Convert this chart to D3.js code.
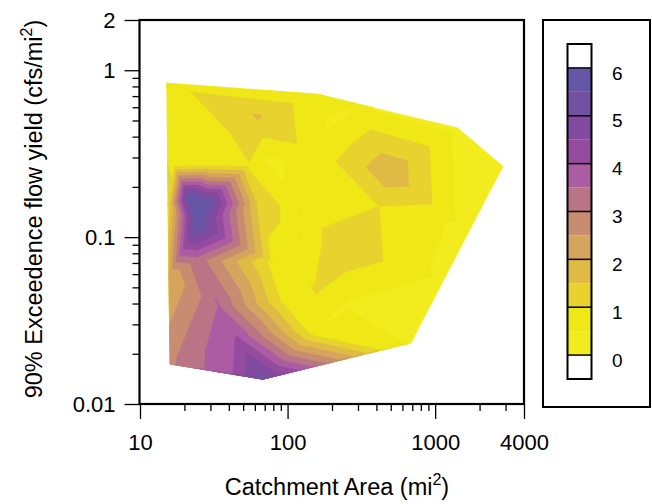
<!DOCTYPE html>
<html><head><meta charset="utf-8">
<script src="https://cdn.jsdelivr.net/npm/d3@7"></script>
<style>body{margin:0;background:#fff} text{font-family:"Liberation Sans",Arial,sans-serif;fill:#000}</style>
</head><body><svg id="c" width="652" height="504"></svg>
<script>
// Sampled sites (catchment area mi², 90% exceedence yield cfs/mi², contoured value)
const siteArea  = [15.2, 160.7, 309.4, 1427, 2879, 685.5, 422.7, 68.1, 42.7, 16.0, 15.5, 15.7, 17.0, 29.8, 53.9, 27.6, 21.8, 27.6, 24.3, 24.3, 34.8, 46.1, 63.0, 73.6, 160.7, 62.1, 121.3, 494, 1472, 416, 244.9, 244.9, 82.1, 1078, 160.7, 158.2, 193.8, 103.8, 121.3];
const siteYield = [0.836, 0.718, 0.609, 0.4495, 0.266, 0.0232, 0.0211, 0.0141, 0.0151, 0.0174, 0.1554, 0.0592, 0.266, 0.270, 0.266, 0.341, 0.1736, 0.1598, 0.1196, 0.0728, 0.0376, 0.0248, 0.530, 0.289, 0.297, 0.1598, 0.1492, 0.245, 0.118, 0.1533, 0.0859, 0.0392, 0.0709, 0.0553, 0.0277, 0.0482, 0.4685, 0.0420, 0.0986];
const siteValue = [0.8, 0.6, 0.5, 0.35, 0.35, 0.4, 1.0, 5.3, 4.0, 2.9, 1.1, 2.0, 0.95, 0.9, 0.95, 0.5, 5.9, 5.85, 5.85, 3.3, 3.55, 4.05, 1.55, 0.4, 0.7, 1.45, 0.6, 1.9, 0.4, 1.0, 1.4, 0.45, 0.7, 0.4, 0.5, 1.05, 0.45, 0.6, 0.6];

const levels = [0, 0.5, 1, 1.5, 2, 2.5, 3, 3.5, 4, 4.5, 5, 5.5, 6];
const bandColors = ["#f2ec1e","#efe716","#e8d22e","#dfbb46","#d5a45d","#c88c70","#b97586","#ac5ca3","#954b9f","#824a9f","#7450a2","#6656a6"];
const xMajor = [10, 100, 1000, 4000];
const xMinor = [20,30,40,50,60,70,80,90,200,300,400,500,600,700,800,900,2000,3000];
const yMajor = [0.01, 0.1, 1, 2];
const yMinor = [0.02,0.03,0.04,0.05,0.06,0.07,0.08,0.09,0.2,0.3,0.4,0.5,0.6,0.7,0.8,0.9];
const legendTicks = [0, 1, 2, 3, 4, 5, 6];

const svg = d3.select("#c");
const x = d3.scaleLog().domain([10, 4000]).range([140, 524]);
const y = d3.scaleLog().domain([0.01, 2]).range([404, 20]);

// triangulated filled contours
const pts = siteArea.map((a, i) => [x(a), y(siteYield[i]), siteValue[i]]);
const del = d3.Delaunay.from(pts, d => d[0], d => d[1]);
const tris = [];
for (let i = 0; i < del.triangles.length; i += 3) {
  tris.push([pts[del.triangles[i]], pts[del.triangles[i+1]], pts[del.triangles[i+2]]]);
}
function clipAbove(poly, t) {
  const out = [];
  for (let i = 0; i < poly.length; i++) {
    const a = poly[i], b = poly[(i + 1) % poly.length];
    const ain = a[2] >= t, bin = b[2] >= t;
    if (ain) out.push(a);
    if (ain !== bin) {
      const s = (t - a[2]) / (b[2] - a[2]);
      out.push([a[0] + s * (b[0] - a[0]), a[1] + s * (b[1] - a[1]), t]);
    }
  }
  return out;
}
const gC = svg.append("g");
bandColors.forEach((col, k) => {
  const t = levels[k];
  let d = "";
  tris.forEach(tr => {
    const p = k === 0 ? tr : clipAbove(tr, t);
    if (p.length >= 3) d += "M" + p.map(q => q[0].toFixed(2) + "," + q[1].toFixed(2)).join("L") + "Z";
  });
  if (d) gC.append("path").attr("d", d).attr("fill", col).attr("stroke", col).attr("stroke-width", 0.6).attr("stroke-linejoin", "round");
});

// frame
svg.append("rect").attr("x", 139.5).attr("y", 20).attr("width", 384.5).attr("height", 384)
  .attr("fill", "none").attr("stroke", "#000").attr("stroke-width", 2.2);

// axes
const fs = 22;
const xa = svg.append("g").attr("transform", "translate(0,404)");
xa.call(d3.axisBottom(x).tickValues(xMajor).tickSize(15).tickPadding(15).tickFormat(d3.format("d")));
xa.call(g => g.select(".domain").remove());
const xm = svg.append("g").attr("transform", "translate(0,404)");
xm.call(d3.axisBottom(x).tickValues(xMinor).tickSize(7).tickFormat(""));
xm.call(g => g.select(".domain").remove());
const ya = svg.append("g").attr("transform", "translate(139.5,0)");
ya.call(d3.axisLeft(y).tickValues(yMajor).tickSize(15).tickPadding(9).tickFormat(d => String(d)));
ya.call(g => g.select(".domain").remove());
const ym = svg.append("g").attr("transform", "translate(139.5,0)");
ym.call(d3.axisLeft(y).tickValues(yMinor).tickSize(7).tickFormat(""));
ym.call(g => g.select(".domain").remove());
svg.selectAll(".tick line").attr("stroke", "#000").attr("stroke-width", 1.3);
svg.selectAll(".tick text").attr("font-size", fs).attr("font-family", "Liberation Sans, Arial, sans-serif").attr("fill", "#000");

// titles
const xt = svg.append("text").attr("x", 337).attr("y", 495).attr("text-anchor", "middle").attr("font-size", 23.5);
xt.append("tspan").text("Catchment Area (mi");
xt.append("tspan").attr("dy", -10).attr("font-size", 16).text("2");
xt.append("tspan").attr("dy", 10).text(")");
const yt = svg.append("text").attr("transform", "translate(42,209) rotate(-90)").attr("text-anchor", "middle").attr("font-size", 23.5);
yt.append("tspan").text("90% Exceedence flow yield (cfs/mi");
yt.append("tspan").attr("dy", -10).attr("font-size", 16).text("2");
yt.append("tspan").attr("dy", 10).text(")");

// colour bar legend
svg.append("rect").attr("x", 543).attr("y", 20).attr("width", 107).attr("height", 387)
  .attr("fill", "#fff").attr("stroke", "#000").attr("stroke-width", 2);
const ly = d3.scaleLinear().domain([-0.5, 6.5]).range([379, 44]);
const lx0 = 567.5, lw = 24;
svg.append("rect").attr("x", lx0).attr("y", ly(6.5)).attr("width", lw).attr("height", ly(6) - ly(6.5)).attr("fill", "#fff");
svg.append("rect").attr("x", lx0).attr("y", ly(0)).attr("width", lw).attr("height", ly(-0.5) - ly(0)).attr("fill", "#fff");
bandColors.forEach((col, k) => {
  svg.append("rect").attr("x", lx0).attr("y", ly(levels[k + 1])).attr("width", lw)
    .attr("height", ly(levels[k]) - ly(levels[k + 1])).attr("fill", col);
});
legendTicks.forEach(v => {
  svg.append("line").attr("x1", lx0).attr("x2", lx0 + lw).attr("y1", ly(v)).attr("y2", ly(v))
    .attr("stroke", "#000").attr("stroke-width", 1.5);
  svg.append("text").attr("x", 612).attr("y", ly(v) + 5).attr("dy", "0.35em").attr("font-size", 19).text(v);
});
svg.append("rect").attr("x", lx0).attr("y", ly(6.5)).attr("width", lw).attr("height", ly(-0.5) - ly(6.5))
  .attr("fill", "none").attr("stroke", "#000").attr("stroke-width", 2);
</script></body></html>
